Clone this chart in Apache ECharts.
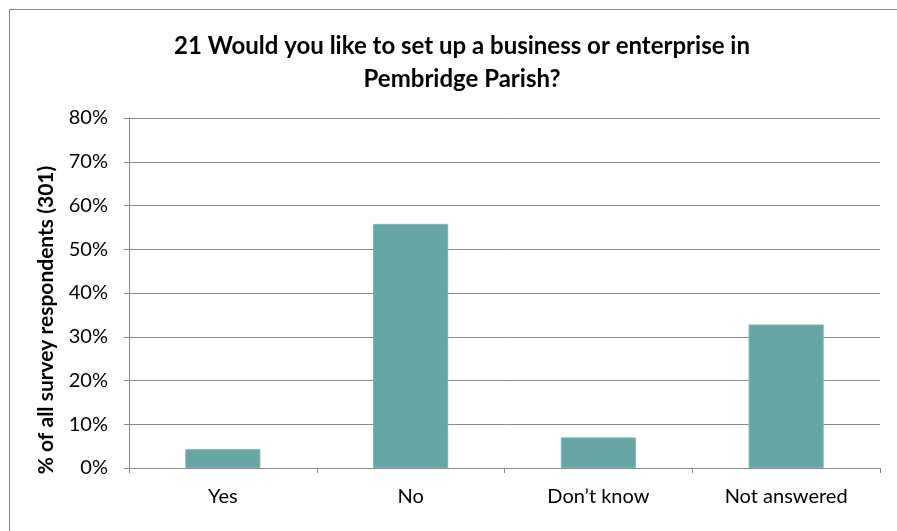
<!DOCTYPE html>
<html lang="en">
<head>
    <meta charset="UTF-8">
    <title>Pembridge Parish survey - Q21</title>
    <script src="https://cdn.jsdelivr.net/npm/echarts@6/dist/echarts.min.js"></script>
    <style>
        html, body {
            height: 100%;
            margin: 0;
            background: #fff;
        }
        #main {
            width: 897px;
            height: 531px;
        }
    </style>
</head>
<body>
    <div id="main"></div>
    <script>
        // data
        var categories = ['Yes', 'No', 'Don\u2019t know', 'Not answered'];
        var percents = [4.3, 55.8, 7.0, 32.8];
        var yTicks = [0, 10, 20, 30, 40, 50, 60, 70, 80];

        var chart = echarts.init(document.getElementById('main'));
        var font = 'Lato, "Open Sans", sans-serif';

        var option = {
            animation: false,
            title: {
                text: '21 Would you like to set up a business or enterprise in\nPembridge Parish?',
                left: 457,
                top: 25,
                textAlign: 'center',
                textStyle: {
                    fontFamily: font,
                    fontWeight: 'bold',
                    fontSize: 24,
                    lineHeight: 33,
                    color: '#000'
                }
            },
            graphic: [
                {
                    // outer frame
                    type: 'rect',
                    shape: { x: 9.5, y: 9.5, width: 1000, height: 1000 },
                    style: { fill: null, stroke: '#878787', lineWidth: 1 },
                    silent: true
                },
                {
                    type: 'text',
                    x: 46,
                    y: 320,
                    rotation: Math.PI / 2,
                    style: {
                        text: '% of all survey respondents (301)',
                        fontFamily: font,
                        fontWeight: 'bold',
                        fontSize: 21,
                        fill: '#000',
                        align: 'center',
                        verticalAlign: 'middle'
                    }
                }
            ],
            grid: {
                left: 129,
                right: 17,
                top: 118,
                bottom: 63
            },
            xAxis: {
                type: 'category',
                data: categories,
                axisLine: { lineStyle: { color: '#888', width: 1 } },
                axisTick: { show: true, length: 5, alignWithLabel: false, lineStyle: { color: '#888' } },
                axisLabel: {
                    margin: 19,
                    fontFamily: font,
                    fontSize: 20,
                    color: '#000'
                }
            },
            yAxis: {
                type: 'value',
                min: yTicks[0],
                max: yTicks[yTicks.length - 1],
                interval: 10,
                axisLine: { show: true, lineStyle: { color: '#888', width: 1 } },
                axisTick: { show: true, length: 5, lineStyle: { color: '#888' } },
                splitLine: { lineStyle: { color: '#888', width: 1 } },
                axisLabel: {
                    margin: 21,
                    fontFamily: font,
                    fontSize: 20,
                    color: '#000',
                    formatter: '{value}%'
                }
            },
            series: [
                {
                    type: 'bar',
                    data: percents,
                    barWidth: '40%',
                    itemStyle: {
                        color: '#65A5A6',
                        borderColor: '#7DB3B4',
                        borderWidth: 1
                    }
                }
            ]
        };

        chart.setOption(option);
    </script>
</body>
</html>
